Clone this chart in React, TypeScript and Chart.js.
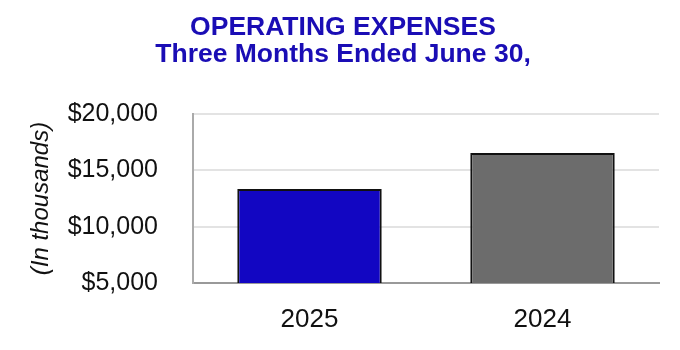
import React, { useEffect, useRef } from "react";
import { Chart, registerables } from "chart.js";

Chart.register(...registerables);

const categories = ["2025", "2024"];
const values = [13350, 16540];
const barColors = ["#1206C2", "#6C6C6C"];
const titleLines = ["OPERATING EXPENSES", "Three Months Ended June 30,"];
const yAxisTitle = "(In thousands)";
const yTickMin = 5000;
const yTickMax = 20000;
const yTickStep = 5000;

const FONT = "Liberation Sans, Arial, sans-serif";

export default function App() {
  const ref = useRef<HTMLCanvasElement>(null);
  useEffect(() => {
    document.body.style.margin = "0";
    const ctx = ref.current!;
    const chart = new Chart(ctx, {
      type: "bar",
      data: {
        labels: categories,
        datasets: [
          {
            data: values,
            backgroundColor: barColors,
            borderColor: "#111111",
            borderWidth: 2,
            categoryPercentage: 1,
            barPercentage: 0.62,
          },
        ],
      },
      options: {
        animation: false,
        responsive: false,
        layout: { padding: { top: 14, right: 21, left: 27, bottom: 0 } },
        plugins: {
          legend: { display: false },
          tooltip: { enabled: false },
          title: {
            display: true,
            text: titleLines,
            color: "#1A0DB5",
            font: { family: FONT, size: 26.5, weight: "bold", lineHeight: 1.02 },
            padding: { top: 0, bottom: 46 },
          },
        },
        scales: {
          x: {
            grid: { display: false, drawTicks: false },
            border: { color: "#999999", width: 2 },
            ticks: {
              color: "#111111",
              padding: 21,
              font: { family: FONT, size: 26 },
            },
            afterFit: (s: any) => {
              s.height = 67;
            },
          },
          y: {
            min: yTickMin,
            max: yTickMax,
            ticks: {
              stepSize: yTickStep,
              color: "#111111",
              padding: 35,
              font: { family: FONT, size: 25 },
              callback: (v: any) => "$" + Number(v).toLocaleString("en-US"),
            },
            grid: { color: "#E3E3E3", lineWidth: 2, drawTicks: false },
            border: { color: "#AAAAAA", width: 2 },
            title: {
              display: true,
              text: yAxisTitle,
              color: "#111111",
              font: { family: FONT, size: 24, style: "italic" },
              padding: { top: 0, bottom: 4 },
            },
            afterFit: (s: any) => {
              s.width = 166;
            },
          },
        },
      },
    });
    return () => chart.destroy();
  }, []);
  return (
    <div style={{ width: 680, height: 350 }}>
      <canvas ref={ref} width={680} height={350} />
    </div>
  );
}
